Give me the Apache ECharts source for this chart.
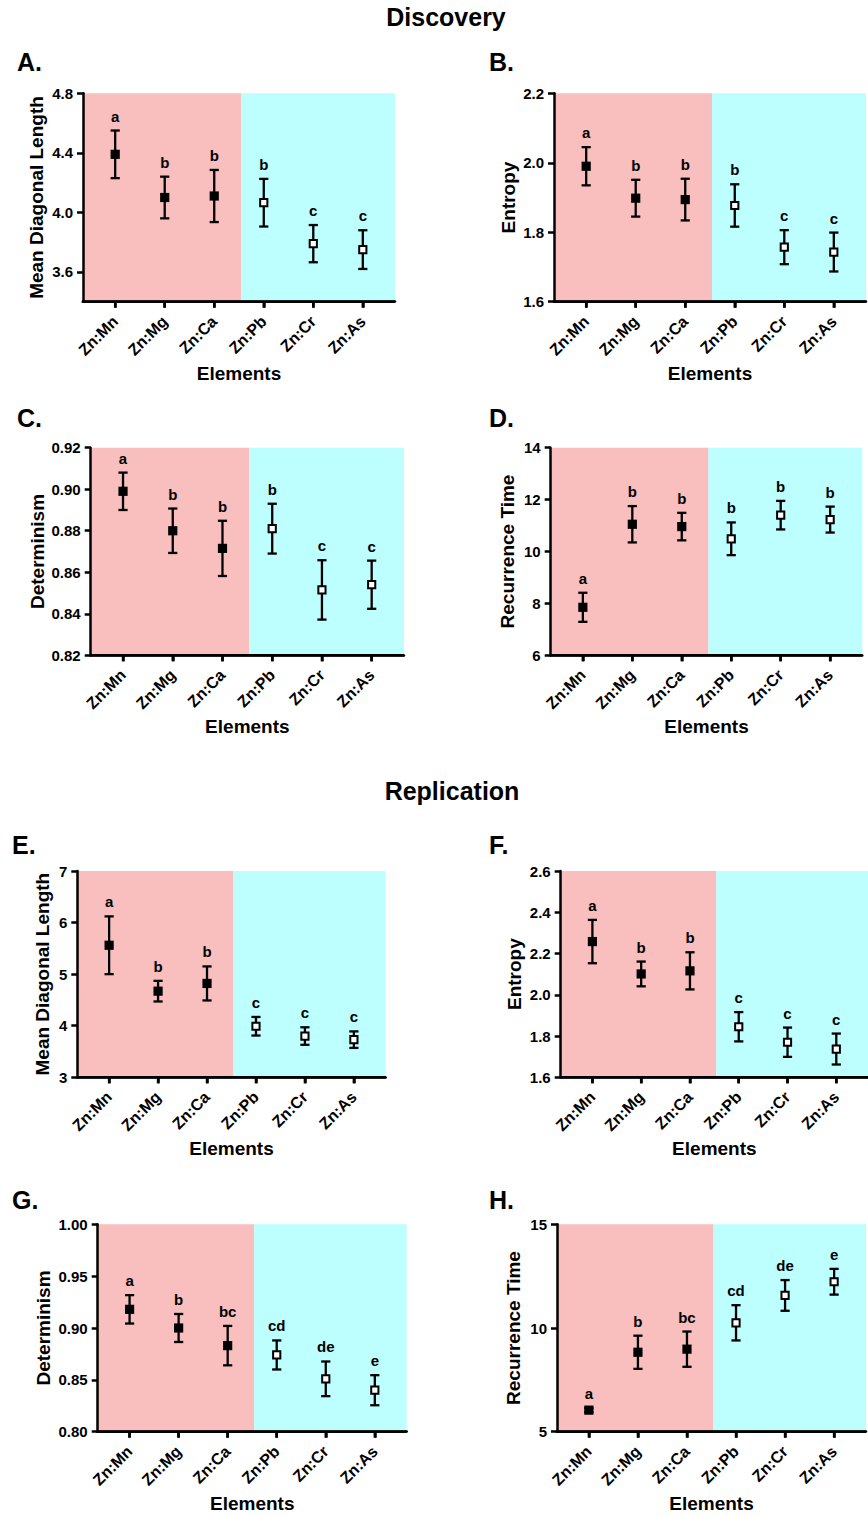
<!DOCTYPE html>
<html>
<head>
<meta charset="utf-8">
<script src="https://cdn.jsdelivr.net/npm/echarts@6/dist/echarts.min.js"></script>
<style>
html,body{margin:0;padding:0;background:#fff;}
#chart{width:868px;height:1517px;}
</style>
</head>
<body>
<div id="chart"></div>
<script>
// ---------------- DATA ----------------
const categories = ['Zn:Mn', 'Zn:Mg', 'Zn:Ca', 'Zn:Pb', 'Zn:Cr', 'Zn:As'];
const filledMarker = [1, 1, 1, 0, 0, 0];

// Discovery
const meanA = [4.39, 4.10, 4.11, 4.065, 3.79, 3.75];
const errA = [0.16, 0.14, 0.175, 0.16, 0.125, 0.13];
const lettersA = ['a', 'b', 'b', 'b', 'c', 'c'];
const ticksA = ['3.6', '4.0', '4.4', '4.8'];

const meanB = [1.99, 1.898, 1.894, 1.877, 1.757, 1.743];
const errB = [0.055, 0.053, 0.06, 0.061, 0.049, 0.056];
const lettersB = ['a', 'b', 'b', 'b', 'c', 'c'];
const ticksB = ['1.6', '1.8', '2.0', '2.2'];

const meanC = [0.899, 0.880, 0.8715, 0.881, 0.8515, 0.854];
const errC = [0.009, 0.0107, 0.0133, 0.012, 0.0143, 0.0116];
const lettersC = ['a', 'b', 'b', 'b', 'c', 'c'];
const ticksC = ['0.82', '0.84', '0.86', '0.88', '0.90', '0.92'];

const meanD = [7.85, 11.05, 10.96, 10.49, 11.40, 11.23];
const errD = [0.56, 0.70, 0.53, 0.63, 0.55, 0.50];
const lettersD = ['a', 'b', 'b', 'b', 'b', 'b'];
const ticksD = ['6', '8', '10', '12', '14'];

// Replication
const meanE = [5.56, 4.67, 4.82, 3.99, 3.80, 3.73];
const errE = [0.56, 0.20, 0.33, 0.18, 0.17, 0.16];
const lettersE = ['a', 'b', 'b', 'c', 'c', 'c'];
const ticksE = ['3', '4', '5', '6', '7'];

const meanF = [2.258, 2.101, 2.116, 1.845, 1.770, 1.737];
const errF = [0.105, 0.06, 0.09, 0.071, 0.071, 0.075];
const lettersF = ['a', 'b', 'b', 'c', 'c', 'c'];
const ticksF = ['1.6', '1.8', '2.0', '2.2', '2.4', '2.6'];

const meanG = [0.918, 0.900, 0.883, 0.874, 0.851, 0.840];
const errG = [0.0137, 0.0135, 0.019, 0.014, 0.0167, 0.0145];
const lettersG = ['a', 'b', 'bc', 'cd', 'de', 'e'];
const ticksG = ['0.80', '0.85', '0.90', '0.95', '1.00'];

const meanH = [6.04, 8.83, 8.98, 10.25, 11.57, 12.23];
const errH = [0.10, 0.80, 0.85, 0.85, 0.74, 0.62];
const lettersH = ['a', 'b', 'bc', 'cd', 'de', 'e'];
const ticksH = ['5', '10', '15'];

const yRangeA = [3.4, 4.8];
const yRangeB = [1.6, 2.2];
const yRangeC = [0.82, 0.92];
const yRangeD = [6, 14];
const yRangeE = [3, 7];
const yRangeF = [1.6, 2.6];
const yRangeG = [0.80, 1.00];
const yRangeH = [5, 15];

const panelLabels = ['A.', 'B.', 'C.', 'D.', 'E.', 'F.', 'G.', 'H.'];
const yTitles = ['Mean Diagonal Length', 'Entropy', 'Determinism', 'Recurrence Time',
                 'Mean Diagonal Length', 'Entropy', 'Determinism', 'Recurrence Time'];
const xTitle = 'Elements';
const sectionTitles = ['Discovery', 'Replication'];

// ---------------- LAYOUT / STYLE ----------------
const FONT = '"Liberation Sans", Arial, Helvetica, sans-serif';
const PINK = '#f9bebe';
const CYAN = '#bdfefe';
const X_MIN = -0.65, X_MAX = 5.65, SPLIT = 2.54;
const AXIS_W = 2.5, TICK_LEN = 6;

const layout = [
  {left: 83,    top: 93.3,   width: 312,   height: 208.4, nameGap: 37, lx: 17,  ly: 74},
  {left: 554,   top: 93.3,   width: 312,   height: 208.4, nameGap: 36, lx: 489, ly: 74},
  {left: 90.7,  top: 447.7,  width: 313.3, height: 207.6, nameGap: 44, lx: 17,  ly: 430},
  {left: 550.7, top: 447.7,  width: 311.6, height: 207.6, nameGap: 34, lx: 489, ly: 430},
  {left: 77.3,  top: 871,    width: 308.4, height: 206.3, nameGap: 25, lx: 12,  ly: 857},
  {left: 560.7, top: 871,    width: 309.5, height: 206.3, nameGap: 37, lx: 489, ly: 857},
  {left: 97.7,  top: 1224.3, width: 309,   height: 207.4, nameGap: 45, lx: 12,  ly: 1212},
  {left: 557,   top: 1224.3, width: 309,   height: 207.4, nameGap: 34, lx: 489, ly: 1212}
];
const sectionTitlePos = [{cx: 446, cy: 17}, {cx: 452, cy: 791}];

const panels = [
  {mean: meanA, err: errA, letters: lettersA, ticks: ticksA, range: yRangeA},
  {mean: meanB, err: errB, letters: lettersB, ticks: ticksB, range: yRangeB},
  {mean: meanC, err: errC, letters: lettersC, ticks: ticksC, range: yRangeC},
  {mean: meanD, err: errD, letters: lettersD, ticks: ticksD, range: yRangeD},
  {mean: meanE, err: errE, letters: lettersE, ticks: ticksE, range: yRangeE},
  {mean: meanF, err: errF, letters: lettersF, ticks: ticksF, range: yRangeF},
  {mean: meanG, err: errG, letters: lettersG, ticks: ticksG, range: yRangeG},
  {mean: meanH, err: errH, letters: lettersH, ticks: ticksH, range: yRangeH}
];

// ---------------- BUILD OPTION ----------------
const grids = [], xAxes = [], yAxes = [], series = [], titles = [];

const measureCtx = document.createElement('canvas').getContext('2d');
function textWidth(text, font) { measureCtx.font = font; return measureCtx.measureText(text).width; }

function bgRender(params, api) {
  const x0 = api.coord([api.value(0), api.value(2)])[0];
  const x1 = api.coord([api.value(1), api.value(2)])[0];
  const cs = params.coordSys;
  return {
    type: 'rect',
    shape: {x: x0, y: cs.y, width: x1 - x0, height: cs.height},
    style: {fill: params.dataIndex === 0 ? PINK : CYAN}
  };
}

// x-axis baseline and category ticks, positioned through the axis scale
function xAxisRender(params, api) {
  const cs = params.coordSys;
  const p = api.coord([api.value(0), api.value(1)]);
  const yb = cs.y + cs.height;
  const children = [
    {type: 'line', shape: {x1: p[0], y1: yb, x2: p[0], y2: yb + TICK_LEN},
     style: {stroke: '#000', lineWidth: AXIS_W}}
  ];
  if (params.dataIndex === 0) {
    children.push({type: 'line', shape: {x1: cs.x - AXIS_W / 2, y1: yb, x2: cs.x + cs.width, y2: yb},
                   style: {stroke: '#000', lineWidth: AXIS_W}});
  }
  return {type: 'group', children: children};
}

function makeErrRender(letters) {
  return function (params, api) {
    const x = api.value(0), m = api.value(1), e = api.value(2), filled = api.value(3);
    const c = api.coord([x, m]);
    const t = api.coord([x, m + e]);
    const b = api.coord([x, m - e]);
    const cap = 4.6;
    const lw = 2.3;
    const children = [
      {type: 'line', shape: {x1: c[0], y1: t[1], x2: c[0], y2: b[1]}, style: {stroke: '#000', lineWidth: lw}},
      {type: 'line', shape: {x1: c[0] - cap, y1: t[1], x2: c[0] + cap, y2: t[1]}, style: {stroke: '#000', lineWidth: lw}},
      {type: 'line', shape: {x1: c[0] - cap, y1: b[1], x2: c[0] + cap, y2: b[1]}, style: {stroke: '#000', lineWidth: lw}}
    ];
    if (filled) {
      children.push({type: 'rect', shape: {x: c[0] - 4.6, y: c[1] - 4.6, width: 9.2, height: 9.2},
                     style: {fill: '#000'}});
    } else {
      children.push({type: 'rect', shape: {x: c[0] - 3.6, y: c[1] - 3.6, width: 7.2, height: 7.2},
                     style: {fill: '#ffffff', stroke: '#000', lineWidth: 2}});
    }
    children.push({
      type: 'text',
      style: {
        text: letters[params.dataIndex], x: c[0], y: t[1] - 7,
        align: 'center', verticalAlign: 'bottom',
        fill: '#000', font: 'bold 15px ' + FONT
      }
    });
    return {type: 'group', children: children};
  };
}

panels.forEach(function (p, i) {
  const L = layout[i];
  grids.push({left: L.left, top: L.top, width: L.width, height: L.height});
  xAxes.push({
    gridIndex: i, type: 'value', min: X_MIN, max: X_MAX, position: 'bottom', z: 10,
    name: xTitle, nameLocation: 'middle', nameGap: 62,
    nameTextStyle: {fontFamily: FONT, fontWeight: 'bold', fontSize: 19, color: '#000'},
    axisLine: {show: true, onZero: false, lineStyle: {color: '#000', width: AXIS_W}},
    axisTick: {show: true, length: TICK_LEN, lineStyle: {color: '#000', width: AXIS_W}, customValues: [0, 1, 2, 3, 4, 5]},
    axisLabel: {
      show: true, rotate: 45, margin: 17, customValues: [0, 1, 2, 3, 4, 5],
      formatter: function (v) { return categories[Math.round(v)]; },
      fontFamily: FONT, fontWeight: 'bold', fontSize: 16, color: '#000'
    },
    splitLine: {show: false}
  });
  const tickVals = p.ticks.map(Number);
  yAxes.push({
    gridIndex: i, type: 'value', min: p.range[0], max: p.range[1], z: 10, position: 'left',
    name: yTitles[i], nameLocation: 'middle', nameGap: L.nameGap,
    nameTextStyle: {fontFamily: FONT, fontWeight: 'bold', fontSize: 19, color: '#000'},
    axisLine: {show: true, onZero: false, lineStyle: {color: '#000', width: AXIS_W}},
    axisTick: {show: true, length: TICK_LEN, lineStyle: {color: '#000', width: AXIS_W}, customValues: tickVals},
    axisLabel: {
      show: true, margin: 10, customValues: tickVals,
      formatter: function (v) {
        let best = p.ticks[0], bd = Infinity;
        p.ticks.forEach(function (s) { const d = Math.abs(Number(s) - v); if (d < bd) { bd = d; best = s; } });
        return best;
      },
      fontFamily: FONT, fontWeight: 'bold', fontSize: 15, color: '#000'
    },
    splitLine: {show: false}
  });
  series.push({
    type: 'custom', xAxisIndex: i, yAxisIndex: i, z: 1, silent: true, clip: false,
    renderItem: bgRender,
    encode: {x: [0, 1], y: 2},
    data: [[X_MIN, SPLIT, p.range[0]], [SPLIT, X_MAX, p.range[0]]]
  });
  series.push({
    type: 'custom', xAxisIndex: i, yAxisIndex: i, z: 20, silent: true, clip: false,
    renderItem: xAxisRender,
    encode: {x: 0, y: 1},
    data: categories.map(function (c, k) { return [k, p.range[0]]; })
  });
  series.push({
    type: 'custom', xAxisIndex: i, yAxisIndex: i, z: 5, silent: true, clip: false,
    renderItem: makeErrRender(p.letters),
    encode: {x: 0, y: 1},
    data: categories.map(function (c, k) { return [k, p.mean[k], p.err[k], filledMarker[k]]; })
  });
  titles.push({
    text: panelLabels[i], left: L.lx, top: L.ly - 25, padding: 0,
    textStyle: {fontFamily: FONT, fontWeight: 'bold', fontSize: 25, color: '#000'}
  });
});

sectionTitles.forEach(function (t, k) {
  const w = textWidth(t, 'bold 25px ' + FONT);
  titles.push({
    text: t, left: sectionTitlePos[k].cx - w / 2, top: sectionTitlePos[k].cy - 12.5, padding: 0,
    textStyle: {fontFamily: FONT, fontWeight: 'bold', fontSize: 25, color: '#000'}
  });
});

const chart = echarts.init(document.getElementById('chart'), null, {renderer: 'svg', width: 868, height: 1517});
chart.setOption({
  animation: false,
  backgroundColor: '#ffffff',
  title: titles,
  grid: grids,
  xAxis: xAxes,
  yAxis: yAxes,
  series: series
});
</script>
</body>
</html>
